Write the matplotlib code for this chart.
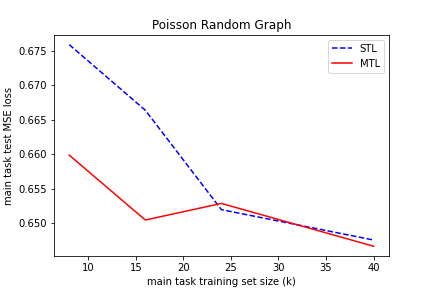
import matplotlib
matplotlib.use('Agg')
import matplotlib.pyplot as plt

train_size = [8, 16, 24, 40]
stl_loss = [0.6759, 0.6664, 0.6520, 0.6476]
mtl_loss = [0.6599, 0.6505, 0.6529, 0.6467]

fig = plt.figure(figsize=(6, 4), dpi=72)
plt.plot(train_size, stl_loss, 'b--', label='STL')
plt.plot(train_size, mtl_loss, 'r-', label='MTL')
plt.title('Poisson Random Graph')
plt.xlabel('main task training set size (k)')
plt.ylabel('main task test MSE loss')
plt.legend(loc='upper right')
plt.savefig('out.png')
